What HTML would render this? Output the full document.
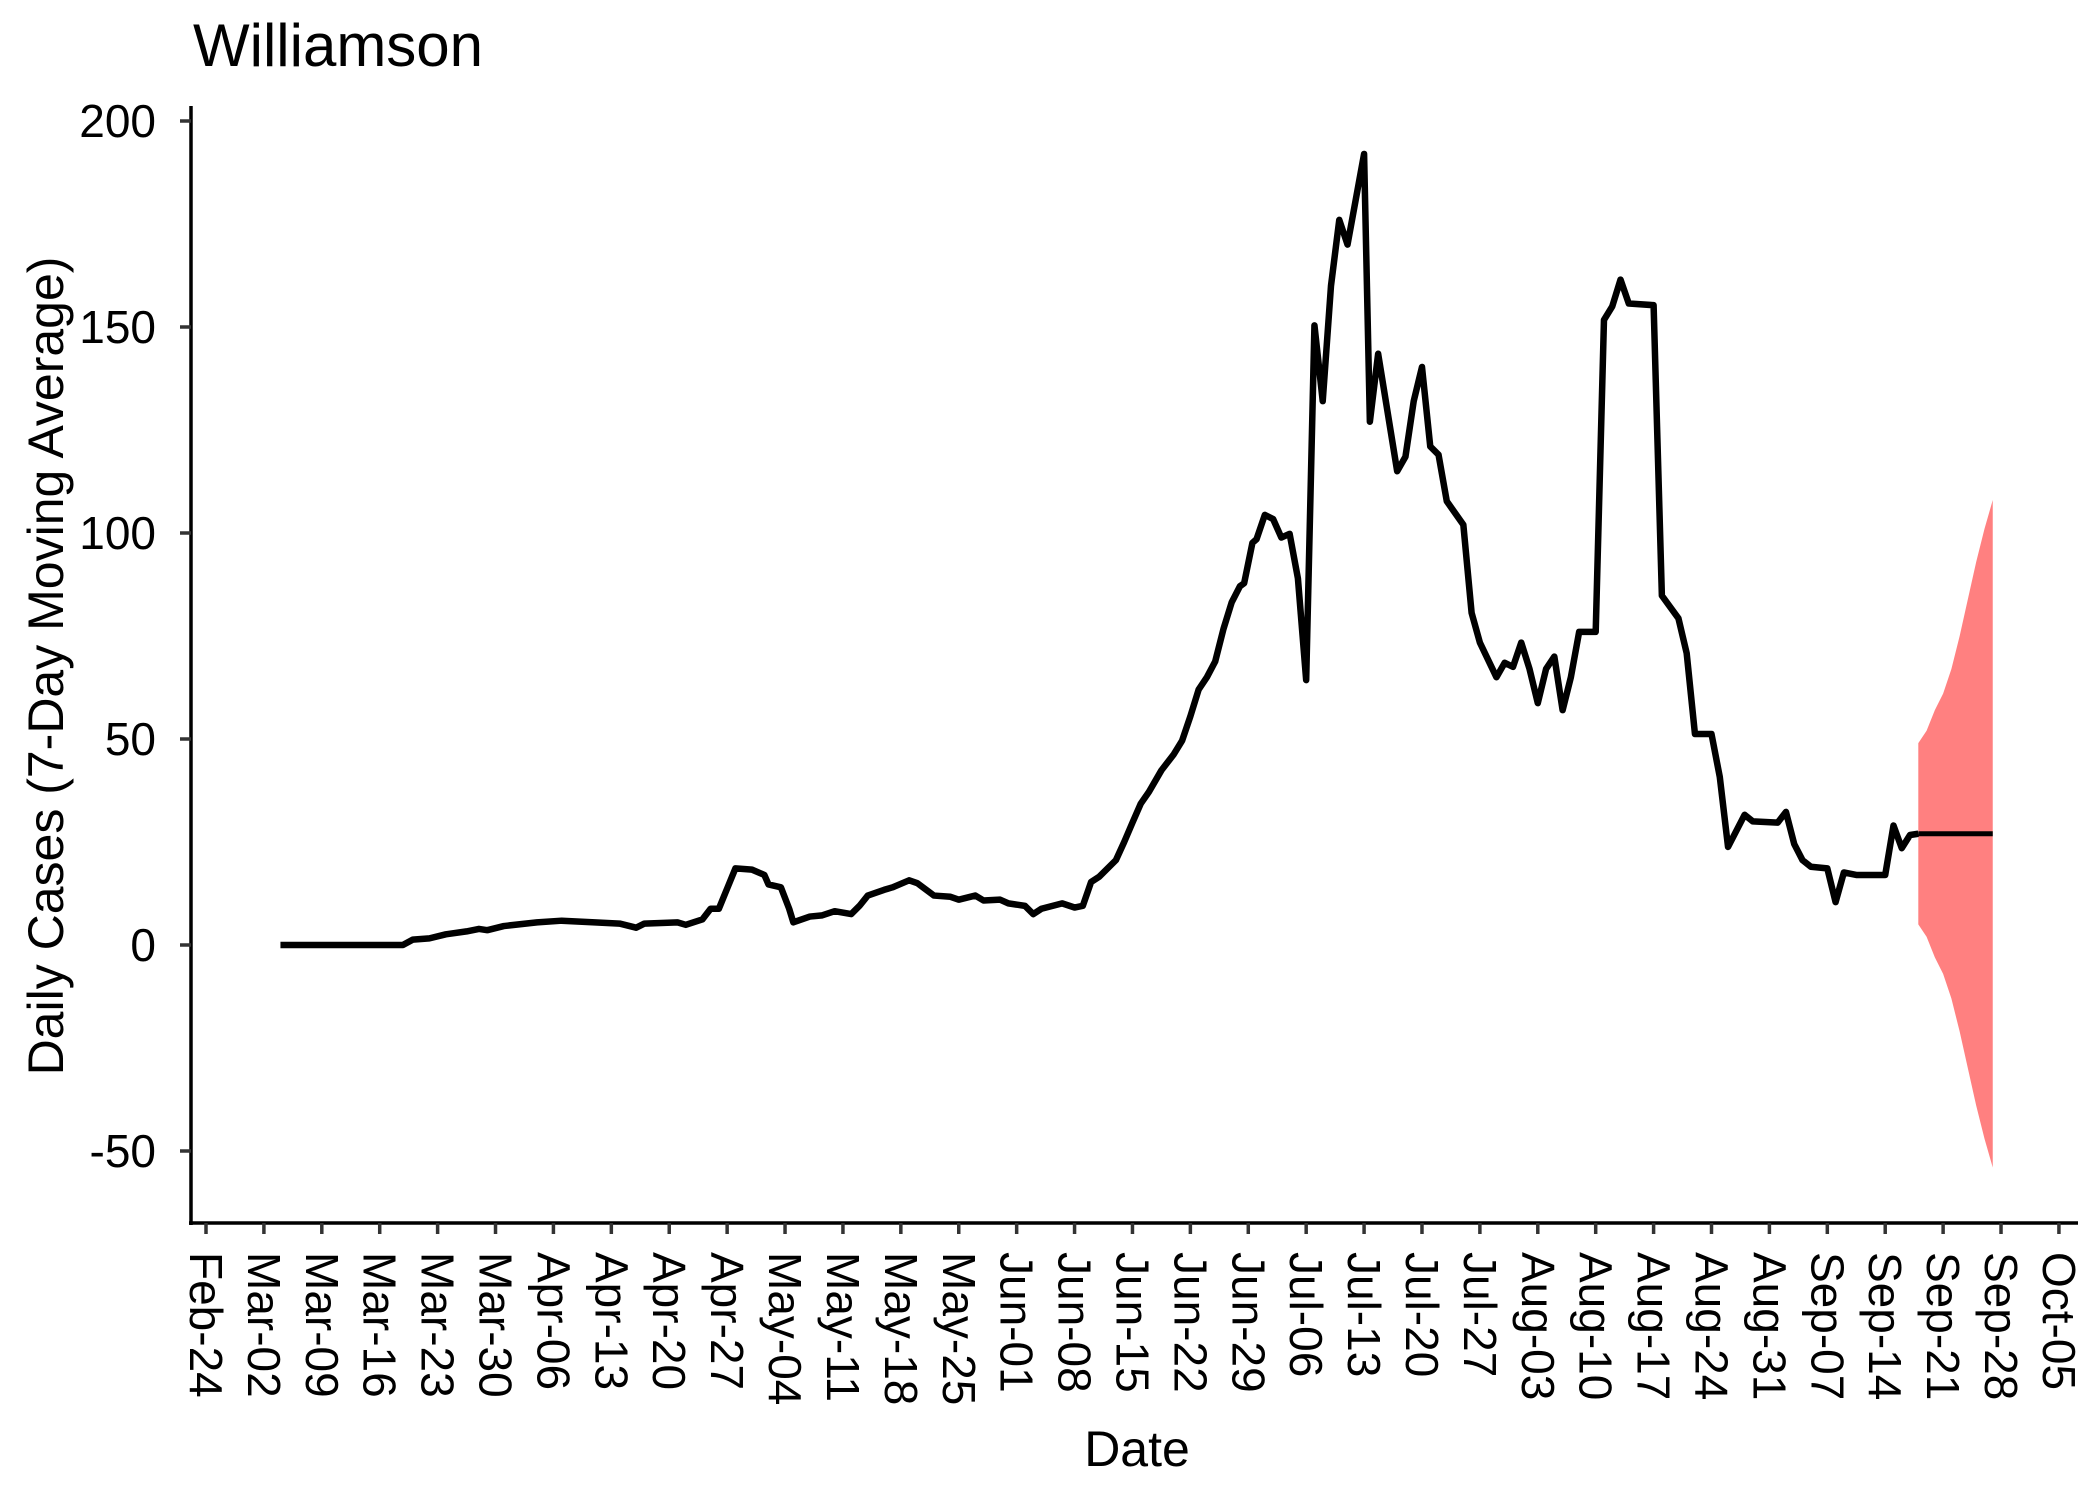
<!DOCTYPE html>
<html><head><meta charset="utf-8"><style>
html,body{margin:0;padding:0;background:#fff;}
svg{display:block;font-family:"Liberation Sans",Arial,sans-serif;}
</style></head><body>
<svg id="chart" width="2100" height="1499" viewBox="0 0 2100 1499" xmlns="http://www.w3.org/2000/svg">
<rect width="2100" height="1499" fill="#fff"/>
<text x="193" y="66" font-size="60" fill="#000">Williamson</text>
<text x="1137" y="1466" font-size="50" text-anchor="middle" fill="#000">Date</text>
<text transform="translate(63,666) rotate(-90)" font-size="50" text-anchor="middle" fill="#000">Daily Cases (7-Day Moving Average)</text>
<g id="plot"></g>
</svg>
<script>
const days = [9,23.8,25,27,29,31.5,33,34,36,40,43,47,50,52,53,57,58,60,61,62,63,64,66,67.5,68,69.5,70.5,71,73,74.5,76,78,79,80,82,83,85,86,88,90,91,93,94,96,97,99,100,101,103.5,105,106,107,108,110,111,112,113,114,115.5,117,118,119,120,121,122,123,124,125,125.5,126.5,127,128,129,130,131,132,133,134,135,136,137,138,139,140,140.7,141.7,144,145,146,147,148,149,150,152,153,154,156,157,158,159,160,161,162,163,164,165,166,168,169,170,171,172,175,176,178,179,180,182,183,184,186,187,190,191,192,193,194,196,197,198,199.5,203,204,205,206,207];
const cases = [0,0,1.3,1.6,2.6,3.3,3.9,3.6,4.6,5.5,5.9,5.5,5.2,4.2,5.2,5.5,4.9,6.2,8.8,8.8,13.7,18.6,18.3,17,14.7,14,8.8,5.5,6.9,7.2,8.2,7.5,9.5,12,13.4,14,15.7,15,12,11.7,11,12,10.8,11,10.1,9.5,7.5,8.8,10.1,9.1,9.5,15.3,16.6,20.6,25,29.7,34.3,37.2,42.4,46.3,49.6,55.5,62,65,68.8,76.7,83.2,87.1,87.8,97.6,98.5,104.4,103.4,98.9,99.8,89,64.3,150.4,132,160,176,170,181,192,127,143.5,115,118.5,132,140.3,121,119,107.7,102,80.6,73.4,65,68.5,67.5,73.4,67,58.7,67,70,57,65,76,76,151.7,155,161.5,155.7,155.3,84.8,79.3,70.8,51.2,51.2,40.8,23.8,31.6,30,29.7,32.3,24.5,20.6,19,18.6,10.4,17.6,17,17,29,23.5,26.7,27];
const fcDays = [207,208,209,210,211,212,213,214,215,216];
const fcMean = [27,27,27,27,27,27,27,27,27,27];
const fcUpper = [49,52,57,61,67,75,84,93,101,108];
const fcLower = [5,2,-3,-7,-13,-21,-30,-39,-47,-54];
const yTicks = [200,150,100,50,0,-50];
const xTickLabels = ["Feb-24","Mar-02","Mar-09","Mar-16","Mar-23","Mar-30","Apr-06","Apr-13","Apr-20","Apr-27","May-04","May-11","May-18","May-25","Jun-01","Jun-08","Jun-15","Jun-22","Jun-29","Jul-06","Jul-13","Jul-20","Jul-27","Aug-03","Aug-10","Aug-17","Aug-24","Aug-31","Sep-07","Sep-14","Sep-21","Sep-28","Oct-05"];

const X = d => 206 + d * 8.272;
const Y = v => 945 - v * 4.12;
const NS = "http://www.w3.org/2000/svg";
const g = document.getElementById("plot");
function mk(tag, attrs){ const e=document.createElementNS(NS,tag); for(const k in attrs) e.setAttribute(k,attrs[k]); g.appendChild(e); return e; }

let bp = fcDays.map((d,i)=>X(d)+","+Y(fcUpper[i])).join(" ") + " " + fcDays.map((d,i)=>X(d)+","+Y(fcLower[i])).reverse().join(" ");
const band = mk("polygon",{points:bp, fill:"#ff8080"});



const line = mk("polyline",{points:days.map((d,i)=>X(d)+","+Y(cases[i])).join(" "), fill:"none", stroke:"#000","stroke-width":6.5,"stroke-linejoin":"round"});



const fl = mk("polyline",{points:fcDays.map((d,i)=>X(d)+","+Y(fcMean[i])).join(" "), fill:"none", stroke:"#000","stroke-width":5});



const ya = mk("line",{x1:191,y1:106,x2:191,y2:1225,stroke:"#000","stroke-width":3.5});


const xa = mk("line",{x1:189,y1:1223,x2:2078,y2:1223,stroke:"#000","stroke-width":3.5});



yTicks.forEach(v=>{
  const t = mk("line",{x1:180,y1:Y(v),x2:191,y2:Y(v),stroke:"#333","stroke-width":3.5});
  
  
  const l = mk("text",{x:156,y:Y(v)+16,"font-size":46,"text-anchor":"end",fill:"#000"});
  l.textContent = v;
  
  
});
xTickLabels.forEach((s,i)=>{
  const x = X(i*7);
  const t = mk("line",{x1:x,y1:1223,x2:x,y2:1234,stroke:"#333","stroke-width":3.5});
  
  
  const l = mk("text",{transform:`translate(${x-16},1252) rotate(90)`,"font-size":46,fill:"#000"});
  l.textContent = s;
  
  
});
</script>
</body></html>
